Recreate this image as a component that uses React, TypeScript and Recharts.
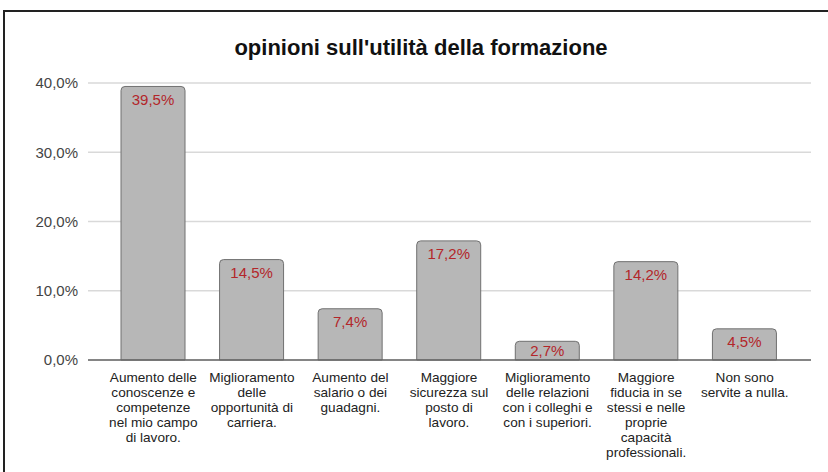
import React from 'react'
import { BarChart, Bar, XAxis, YAxis, CartesianGrid, LabelList } from 'recharts'

const categories = [
  'Aumento delle\nconoscenze e\ncompetenze\nnel mio campo\ndi lavoro.',
  'Miglioramento\ndelle\nopportunità di\ncarriera.',
  'Aumento del\nsalario o dei\nguadagni.',
  'Maggiore\nsicurezza sul\nposto di\nlavoro.',
  'Miglioramento\ndelle relazioni\ncon i colleghi e\ncon i superiori.',
  'Maggiore\nfiducia in se\nstessi e nelle\nproprie\ncapacità\nprofessionali.',
  'Non sono\nservite a nulla.',
]
const values = [39.5, 14.5, 7.4, 17.2, 2.7, 14.2, 4.5]
const yTicks = [0, 10, 20, 30, 40]

const data = categories.map((name, i) => ({ name, value: values[i] }))

const FONT = '"Liberation Sans", Arial, sans-serif'
const pct = (v: number) => v.toFixed(1).replace('.', ',') + '%'

function CategoryTick(props: any) {
  const { x, y, payload } = props
  const lines = String(payload.value).split('\n')
  return (
    <text x={x} y={y} textAnchor="middle" fill="#222" fontSize={13.6} fontFamily={FONT}>
      {lines.map((line, i) => (
        <tspan key={i} x={x} dy={i === 0 ? 20 : 15}>
          {line}
        </tspan>
      ))}
    </text>
  )
}

function ValueLabel(props: any) {
  const { x, y, width, height, value } = props
  const bottom = y + height
  const baseline = Math.min(y + 18.2, bottom - 4)
  return (
    <text
      x={x + width / 2}
      y={baseline}
      textAnchor="middle"
      fill="#b3262a"
      fontSize={15}
      fontFamily={FONT}
    >
      {pct(value)}
    </text>
  )
}

export default function App() {
  return (
    <div
      style={{
        position: 'absolute',
        left: 0,
        top: 0,
        width: 828,
        height: 472,
        overflow: 'hidden',
        background: '#fff',
        fontFamily: FONT,
      }}
    >
      <div
        style={{
          position: 'absolute',
          left: 3,
          top: 10,
          width: 840,
          height: 480,
          border: '2px solid #222',
          boxSizing: 'border-box',
        }}
      />
      <div
        style={{
          position: 'absolute',
          left: 0,
          width: 842,
          top: 35,
          textAlign: 'center',
          fontSize: 22,
          fontWeight: 'bold',
          color: '#111',
        }}
      >
        opinioni sull'utilità della formazione
      </div>
      <div style={{ position: 'absolute', left: 0, top: 0 }}>
        <BarChart
          width={828}
          height={472}
          data={data}
          margin={{ top: 83, right: 17, bottom: 0, left: 0 }}
          barSize={64}
        >
          <CartesianGrid vertical={false} stroke="#d9d9d9" strokeWidth={1.5} />
          <YAxis
            width={88}
            domain={[0, 40]}
            ticks={yTicks}
            tickFormatter={pct}
            axisLine={false}
            tickLine={false}
            tickSize={0}
            tickMargin={10}
            tick={{ fill: '#444', fontSize: 15, fontFamily: FONT }}
          />
          <XAxis
            dataKey="name"
            height={112}
            interval={0}
            padding={{ left: 16, right: 17 }}
            axisLine={{ stroke: '#666', strokeWidth: 1.5 }}
            tickLine={false}
            tickSize={0}
            tick={<CategoryTick />}
          />
          <Bar
            dataKey="value"
            fill="#b7b7b7"
            stroke="#707070"
            strokeWidth={1}
            radius={[4, 4, 0, 0]}
            isAnimationActive={false}
          >
            <LabelList dataKey="value" content={<ValueLabel />} />
          </Bar>
        </BarChart>
      </div>
    </div>
  )
}
